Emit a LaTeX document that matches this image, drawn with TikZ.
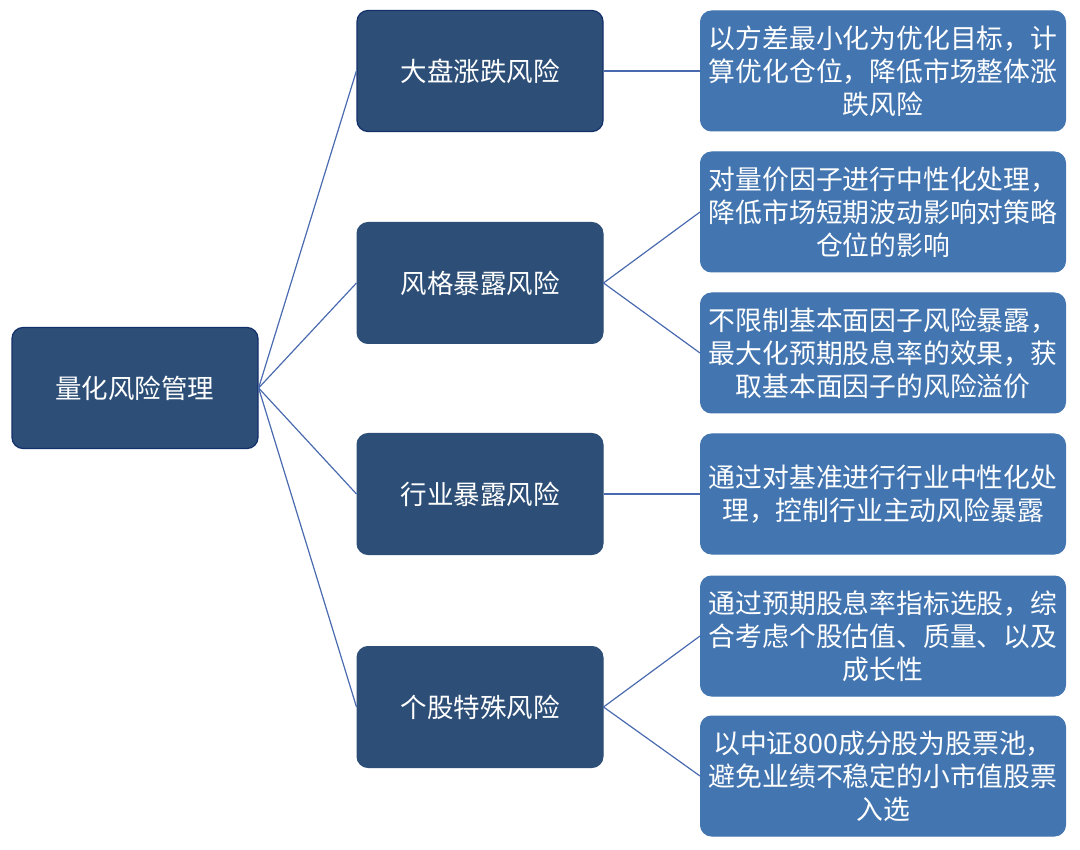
\documentclass[tikz,border=0pt]{standalone}
\usepackage{fontspec}
\setmainfont{Noto Sans CJK SC}
\definecolor{darkfill}{HTML}{2D4F77}
\definecolor{darkedge}{HTML}{13306A}
\definecolor{lightfill}{HTML}{4375B0}
\definecolor{linkcol}{HTML}{4A6AAF}
\tikzset{
  darkbox/.style={rectangle, rounded corners=11pt, fill=darkfill, draw=darkfill, line width=1pt,
    minimum width=246pt, minimum height=121pt, inner sep=0pt, text=white,
    font=\fontsize{26.5}{33}\selectfont},
  rootbox/.style={darkbox, draw=darkedge, line width=1.2pt},
  descbox/.style={rectangle, rounded corners=11pt, fill=lightfill, draw=lightfill, line width=1pt,
    minimum width=365pt, minimum height=120pt, inner sep=0pt, text=white, align=center,
    font=\fontsize{26.8}{33}\selectfont},
  link/.style={draw=linkcol, line width=1.2pt}
}
\begin{document}
\begin{tikzpicture}[x=1pt,y=-1pt]
\useasboundingbox (0,0) rectangle (1080,850);
\node[rootbox] (root) at (135,388) {量化风险管理};
\node[rootbox] (a) at (480,71) {大盘涨跌风险};
\node[darkbox] (b) at (480,283) {风格暴露风险};
\node[darkbox] (c) at (480,494) {行业暴露风险};
\node[darkbox] (d) at (480,707) {个股特殊风险};

\node[descbox] (a1) at (883,71) {以方差最小化为优化目标，计\\算优化仓位，降低市场整体涨\\跌风险};
\node[descbox] (b1) at (883,212) {对量价因子进行中性化处理，\\降低市场短期波动影响对策略\\仓位的影响};
\node[descbox] (b2) at (883,353) {不限制基本面因子风险暴露，\\最大化预期股息率的效果，获\\取基本面因子的风险溢价};
\node[descbox] (c1) at (883,494) {通过对基准进行行业中性化处\\理，控制行业主动风险暴露};
\node[descbox] (d1) at (883,636) {通过预期股息率指标选股，综\\合考虑个股估值、质量、以及\\成长性};
\node[descbox] (d2) at (883,776) {以中证800成分股为股票池，\\避免业绩不稳定的小市值股票\\入选};

\draw[link] (root.east) -- (a.west);
\draw[link] (root.east) -- (b.west);
\draw[link] (root.east) -- (c.west);
\draw[link] (root.east) -- (d.west);
\draw[link] (a.east) -- (a1.west);
\draw[link] (b.east) -- (b1.west);
\draw[link] (b.east) -- (b2.west);
\draw[link] (c.east) -- (c1.west);
\draw[link] (d.east) -- (d1.west);
\draw[link] (d.east) -- (d2.west);
\end{tikzpicture}
\end{document}
